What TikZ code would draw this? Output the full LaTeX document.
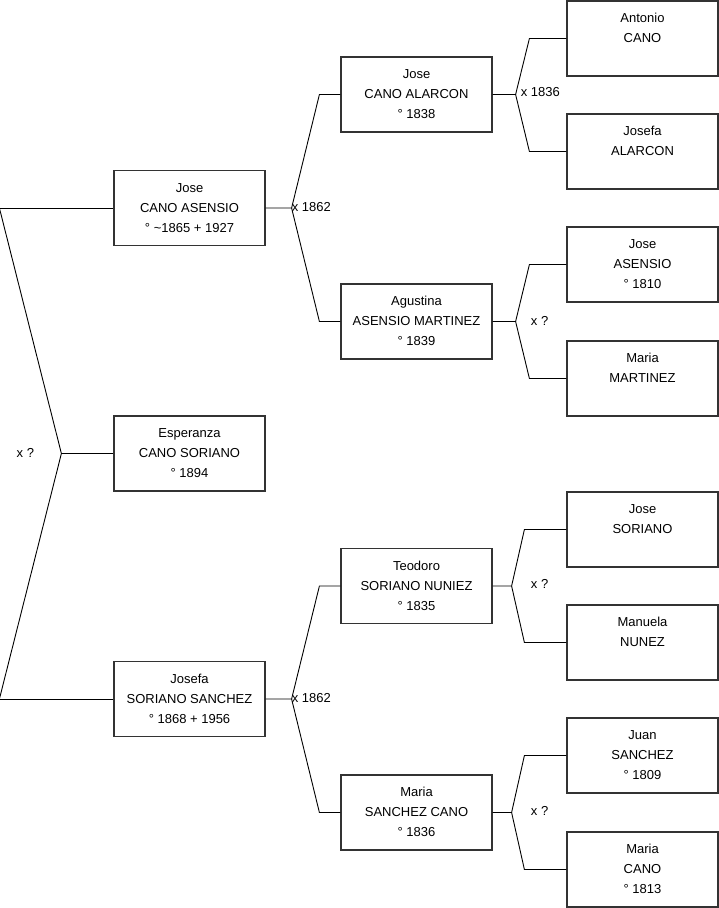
\documentclass[tikz,border=0pt]{standalone}
\usepackage{fontspec}
\setmainfont{Liberation Sans}
\newcommand\pl[3]{\strut#1\\\strut#2\\\strut#3}
\begin{document}
\begin{tikzpicture}[x=1pt,y=-1pt,
  person/.style={draw=black!80, line width=1.2pt, minimum width=151pt, minimum height=75pt,
    inner sep=0pt, align=center, font=\fontsize{13}{20}\selectfont},
  link/.style={draw=black, line width=0.9pt},
  lbl/.style={font=\fontsize{13}{16}\selectfont, inner sep=0pt}]
\useasboundingbox (0,0) rectangle (719,908);

% generation 0
\node[person] (p0) at (189.5,453.5) {\pl{Esperanza}{CANO SORIANO}{° 1894}};
% generation 1
\node[person] (p1) at (189.5,208) {\pl{Jose}{CANO ASENSIO}{° \textasciitilde1865 + 1927}};
\node[person] (p2) at (189.5,699) {\pl{Josefa}{SORIANO SANCHEZ}{° 1868 + 1956}};
% generation 2
\node[person] (f1) at (416.5,94.5) {\pl{Jose}{CANO ALARCON}{° 1838}};
\node[person] (f2) at (416.5,321.5) {\pl{Agustina}{ASENSIO MARTINEZ}{° 1839}};
\node[person] (f3) at (416.5,586) {\pl{Teodoro}{SORIANO NUNIEZ}{° 1835}};
\node[person] (f4) at (416.5,812.5) {\pl{Maria}{SANCHEZ CANO}{° 1836}};
% generation 3
\node[person] (g1) at (642.5,38.5) {\pl{Antonio}{CANO}{}};
\node[person] (g2) at (642.5,151.5) {\pl{Josefa}{ALARCON}{}};
\node[person] (g3) at (642.5,264.5) {\pl{Jose}{ASENSIO}{° 1810}};
\node[person] (g4) at (642.5,378.5) {\pl{Maria}{MARTINEZ}{}};
\node[person] (g5) at (642.5,529.5) {\pl{Jose}{SORIANO}{}};
\node[person] (g6) at (642.5,642.5) {\pl{Manuela}{NUNEZ}{}};
\node[person] (g7) at (642.5,755.5) {\pl{Juan}{SANCHEZ}{° 1809}};
\node[person] (g8) at (642.5,869.5) {\pl{Maria}{CANO}{° 1813}};

% root family
\coordinate (j0) at ([xshift=-52pt]p0.west);
\coordinate (b1) at ([xshift=-114pt]p1.west);
\coordinate (b2) at ([xshift=-114pt]p2.west);
\draw[link] (p0.west) -- (j0);
\draw[link] (b1) -- (j0) -- (b2);
\draw[link] (b1) -- (p1.west);
\draw[link] (b2) -- (p2.west);
\node[lbl] (m0) at ([xshift=-36pt,yshift=1pt]j0) {x ?};

% family of p1
\coordinate (j1) at ([xshift=26pt]p1.east);
\draw[link] (p1.east) -- (j1) -- ([xshift=-21pt]f1.west) -- (f1.west);
\draw[link] (j1) -- ([xshift=-21pt]f2.west) -- (f2.west);
\node[lbl, anchor=west] (m1) at ([xshift=0pt,yshift=1pt]j1) {x 1862};

% family of p2
\coordinate (j2) at ([xshift=26pt]p2.east);
\draw[link] (p2.east) -- (j2) -- ([xshift=-21pt]f3.west) -- (f3.west);
\draw[link] (j2) -- ([xshift=-21pt]f4.west) -- (f4.west);
\node[lbl, anchor=west] (m2) at ([xshift=0pt,yshift=1pt]j2) {x 1862};

% family of f1
\coordinate (k1) at ([xshift=23pt]f1.east);
\draw[link] (f1.east) -- (k1) -- ([xshift=-37pt]g1.west) -- (g1.west);
\draw[link] (k1) -- ([xshift=-37pt]g2.west) -- (g2.west);
\node[lbl, anchor=west] (n1) at ([xshift=5pt,yshift=2pt]k1) {x 1836};

% family of f2
\coordinate (k2) at ([xshift=23pt]f2.east);
\draw[link] (f2.east) -- (k2) -- ([xshift=-37pt]g3.west) -- (g3.west);
\draw[link] (k2) -- ([xshift=-37pt]g4.west) -- (g4.west);
\node[lbl] (n2) at ([xshift=24pt,yshift=1pt]k2) {x ?};

% family of f3
\coordinate (k3) at ([xshift=19pt]f3.east);
\draw[link] (f3.east) -- (k3) -- ([xshift=-42pt]g5.west) -- (g5.west);
\draw[link] (k3) -- ([xshift=-42pt]g6.west) -- (g6.west);
\node[lbl] (n3) at ([xshift=28pt,yshift=2pt]k3) {x ?};

% family of f4
\coordinate (k4) at ([xshift=19pt]f4.east);
\draw[link] (f4.east) -- (k4) -- ([xshift=-42pt]g7.west) -- (g7.west);
\draw[link] (k4) -- ([xshift=-42pt]g8.west) -- (g8.west);
\node[lbl] (n4) at ([xshift=28pt,yshift=2pt]k4) {x ?};
\end{tikzpicture}
\end{document}
